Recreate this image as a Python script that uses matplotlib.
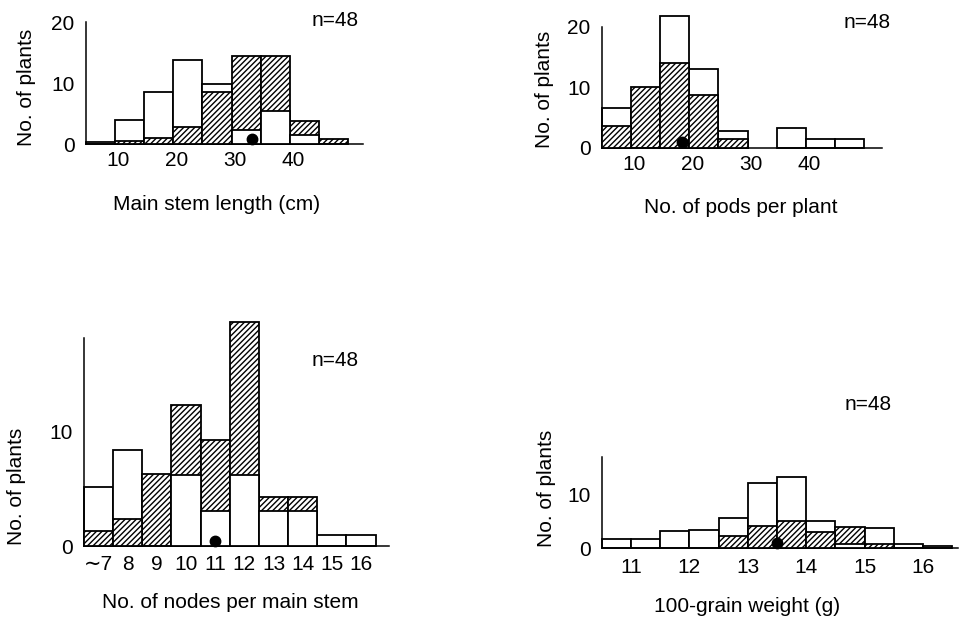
import matplotlib
matplotlib.use("Agg")
import matplotlib.pyplot as plt
import matplotlib.transforms as mtransforms

plt.rcParams['font.family'] = ['Liberation Sans', 'DejaVu Sans']
plt.rcParams['hatch.linewidth'] = 1.0

# main stem length (cm), 5 cm classes (left edges)
stem_bins = [5, 10, 15, 20, 25, 30, 35, 40, 45]
stem_white = [0.3, 4.0, 8.5, 13.8, 9.9, 2.3, 5.5, 1.5, 0]
stem_hatched = [0, 0.6, 1.1, 2.9, 8.5, 14.5, 14.5, 3.8, 0.9]
stem_mean = 33.5

# pods per plant, 5-pod classes (left edges)
pods_bins = [5, 10, 15, 20, 25, 30, 35, 40, 45]
pods_white = [6.5, 0, 21.8, 13.1, 2.8, 0, 3.3, 1.4, 1.4]
pods_hatched = [3.6, 10.0, 14.0, 8.8, 1.5, 0, 0, 0, 0]
pods_mean = 18.7

# nodes per main stem
nodes_labels = ['\u223c7', '8', '9', '10', '11', '12', '13', '14', '15', '16']
nodes_white = [5.2, 8.4, 0, 6.2, 3.1, 6.2, 3.1, 3.1, 1.0, 1.0]
nodes_hatched = [1.3, 2.4, 6.3, 12.3, 9.3, 19.6, 4.3, 4.3, 0, 0]
nodes_mean = 11.0

# 100-grain weight (g), 0.5 g classes (left edges)
grain_bins = [10.5, 11.0, 11.5, 12.0, 12.5, 13.0, 13.5, 14.0, 14.5, 15.0, 15.5, 16.0]
grain_white = [1.7, 1.75, 3.3, 3.4, 5.6, 12.3, 13.4, 5.2, 0.8, 3.9, 0.75, 0.5]
grain_hatched = [0, 0, 0, 0, 2.4, 4.1, 5.1, 3.0, 4.0, 0.8, 0, 0]
grain_mean = 13.5

W, H = 959, 621
fig = plt.figure(figsize=(W / 100, H / 100), dpi=100)


def make_axes(left, right, base, top):
    # pixel box -> figure fraction
    return fig.add_axes([left / W, (H - base) / H, (right - left) / W, (base - top) / H])


def draw_pair(ax, x, white, hatched, width, align):
    # the taller bar goes behind, the shorter one in front
    for xi, w, h in zip(x, white, hatched):
        bars = [(w, False), (h, True)]
        bars.sort(key=lambda b: -b[0])
        for z, (val, hat) in enumerate(bars):
            if val <= 0:
                continue
            ax.bar(xi, val, width, align=align, facecolor='white', edgecolor='black',
                   linewidth=1.3, hatch='//////' if hat else None, zorder=2 + z,
                   clip_on=False)


def style(ax, bottom_pad, shift=0):
    for s in ['top', 'right']:
        ax.spines[s].set_visible(False)
    for s in ['left', 'bottom']:
        ax.spines[s].set_linewidth(1.1)
    ax.tick_params(axis='both', length=0, labelsize=15)
    ax.tick_params(axis='y', pad=8)
    ax.tick_params(axis='x', pad=bottom_pad)
    ax.patch.set_alpha(0)
    if shift:
        off = mtransforms.ScaledTranslation(shift / 100, 0, fig.dpi_scale_trans)
        for lab in ax.get_xticklabels():
            lab.set_transform(lab.get_transform() + off)


def mark_mean(ax, xval):
    tr = mtransforms.offset_copy(ax.transData, fig=fig, y=3.8, units='points')
    ax.plot([xval], [0], 'o', color='black', markersize=7.5, transform=tr,
            zorder=10, clip_on=False)


# panel 1
ax1 = make_axes(85.7, 363.4, 144.3, 22.3)
draw_pair(ax1, stem_bins, stem_white, stem_hatched, 5, 'edge')
ax1.set_xlim(5, 52.6)
ax1.set_ylim(0, 20)
ax1.set_xticks([10, 20, 30, 40])
ax1.set_yticks([0, 10, 20])
style(ax1, 5, shift=3)
mark_mean(ax1, stem_mean)

# panel 2
ax2 = make_axes(601.7, 881.7, 147.7, 26.9)
draw_pair(ax2, pods_bins, pods_white, pods_hatched, 5, 'edge')
ax2.set_xlim(5, 53)
ax2.set_ylim(0, 20)
ax2.set_xticks([10, 20, 30, 40])
ax2.set_yticks([0, 10, 20])
style(ax2, 5, shift=3)
mark_mean(ax2, pods_mean)

# panel 3
ax3 = make_axes(84, 389, 546, 338)
pos = list(range(len(nodes_labels)))
draw_pair(ax3, pos, nodes_white, nodes_hatched, 1, 'center')
ax3.set_xlim(-0.5, 9.96)
ax3.set_ylim(0, 18.2)
ax3.set_xticks(pos)
ax3.set_xticklabels(nodes_labels)
ax3.set_yticks([0, 10])
style(ax3, 6.5)
mark_mean(ax3, nodes_mean - 7)

# panel 4
ax4 = make_axes(601.7, 958, 548.3, 456.6)
draw_pair(ax4, grain_bins, grain_white, grain_hatched, 0.5, 'edge')
ax4.set_xlim(10.5, 16.6)
ax4.set_ylim(0, 17.2)
ax4.set_xticks([11, 12, 13, 14, 15, 16])
ax4.set_yticks([0, 10])
style(ax4, 7)
mark_mean(ax4, grain_mean)

# labels
def ftext(x, y, s, **kw):
    fig.text(x / W, 1 - y / H, s, ha='center', va='center', fontsize=15, **kw)

ftext(217, 205, 'Main stem length (cm)')
ftext(741, 208, 'No. of pods per plant')
ftext(230, 602, 'No. of nodes per main stem')
ftext(747, 607, '100-grain weight (g)')

for x, y in [(26, 87), (545, 89), (17, 486), (546, 488)]:
    ftext(x, y, 'No. of plants', rotation=90)

for x, y in [(335, 20), (867, 22), (335, 360), (868, 405)]:
    ftext(x, y, 'n=48')

fig.savefig('out.png', dpi=100)
